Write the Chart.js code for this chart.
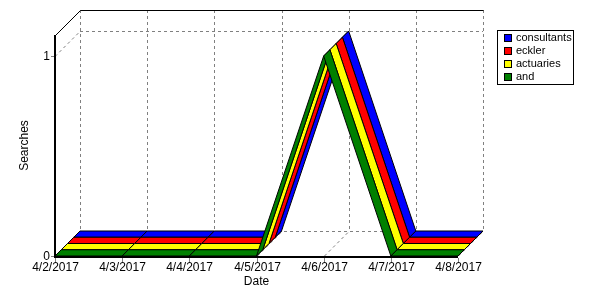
<!DOCTYPE html>
<html>
<head>
<meta charset="utf-8">
<script src="https://cdn.jsdelivr.net/npm/chart.js@4"></script>
<style>
  html, body { margin: 0; padding: 0; background: #fff; }
  #wrap { width: 600px; height: 300px; }
</style>
</head>
<body>
<div id="wrap"><canvas id="chart"></canvas></div>
<script>
const dates = ['4/2/2017', '4/3/2017', '4/4/2017', '4/5/2017', '4/6/2017', '4/7/2017', '4/8/2017'];
const consultants = [0, 0, 0, 0, 1, 0, 0];
const eckler = [0, 0, 0, 0, 1, 0, 0];
const actuaries = [0, 0, 0, 0, 1, 0, 0];
const and = [0, 0, 0, 0, 1, 0, 0];
const yTicks = [0, 1];

const DEPTH = 25;
const FONT = '12px "Liberation Sans", Arial, sans-serif';
const LEGEND_FONT = '11px "Liberation Sans", Arial, sans-serif';

const ribbons3d = {
  id: 'ribbons3d',
  beforeDatasetsDraw(chart) {
    const ctx = chart.ctx, a = chart.chartArea;
    const xs = chart.scales.x, ys = chart.scales.y;
    const y0 = ys.getPixelForValue(0);
    ctx.save();
    ctx.lineWidth = 1;
    ctx.strokeStyle = '#808080';
    ctx.setLineDash([3, 3]);
    // back wall verticals + floor diagonals
    dates.forEach((d, i) => {
      const x = Math.round(xs.getPixelForValue(i)) + 0.5;
      ctx.beginPath();
      ctx.moveTo(x + DEPTH, a.top - DEPTH);
      ctx.lineTo(x + DEPTH, y0 - DEPTH);
      ctx.moveTo(x, y0);
      ctx.lineTo(x + DEPTH, y0 - DEPTH);
      ctx.stroke();
    });
    // back wall horizontals + left wall diagonals
    yTicks.forEach(v => {
      const y = Math.round(ys.getPixelForValue(v)) + 0.5;
      ctx.beginPath();
      ctx.moveTo(a.left + DEPTH, y - DEPTH);
      ctx.lineTo(a.right + DEPTH, y - DEPTH);
      ctx.moveTo(a.left, y);
      ctx.lineTo(a.left + DEPTH, y - DEPTH);
      ctx.stroke();
    });
    ctx.setLineDash([]);
    // top edges
    ctx.strokeStyle = '#000';
    ctx.beginPath();
    ctx.moveTo(a.left + 0.5, a.top + 0.5);
    ctx.lineTo(a.left + DEPTH + 0.5, a.top - DEPTH + 0.5);
    ctx.lineTo(a.right + DEPTH + 0.5, a.top - DEPTH + 0.5);
    ctx.stroke();
    // front axes
    ctx.lineWidth = 2;
    ctx.beginPath();
    ctx.moveTo(a.left, a.top);
    ctx.lineTo(a.left, y0 + 1);
    ctx.lineTo(a.right, y0 + 1);
    ctx.stroke();
    // ticks
    ctx.lineWidth = 1;
    ctx.strokeStyle = '#808080';
    ctx.fillStyle = '#000';
    ctx.font = FONT;
    ctx.textAlign = 'center';
    ctx.textBaseline = 'middle';
    dates.forEach((d, i) => {
      const x = Math.round(xs.getPixelForValue(i)) + 0.5;
      ctx.beginPath();
      ctx.moveTo(x, y0 + 2);
      ctx.lineTo(x, y0 + 6);
      ctx.stroke();
      ctx.fillText(d, x, y0 + 12);
    });
    ctx.textAlign = 'right';
    yTicks.forEach(v => {
      const y = Math.round(ys.getPixelForValue(v)) + 0.5;
      ctx.beginPath();
      ctx.moveTo(a.left - 4, y);
      ctx.lineTo(a.left - 1, y);
      ctx.stroke();
      ctx.fillText(String(v), a.left - 5, y);
    });
    // axis titles
    ctx.textAlign = 'center';
    ctx.fillText('Date', (a.left + a.right) / 2, y0 + 26);
    ctx.save();
    ctx.translate(25, (a.top + y0) / 2);
    ctx.rotate(-Math.PI / 2);
    ctx.fillText('Searches', 0, 0);
    ctx.restore();
    ctx.restore();
  },
  afterDatasetsDraw(chart) {
    const ctx = chart.ctx;
    const sets = chart.data.datasets;
    const n = sets.length;
    const metas = sets.map((s, i) => chart.getDatasetMeta(i).data);
    ctx.save();
    ctx.lineWidth = 1;
    ctx.strokeStyle = '#000';
    ctx.lineJoin = 'miter';
    for (let k = 0; k < dates.length - 1; k++) {
      for (let i = 0; i < n; i++) {
        const f0 = (n - 1 - i) / n, f1 = (n - i) / n;
        const p = metas[i][k], q = metas[i][k + 1];
        ctx.beginPath();
        ctx.moveTo(p.x + DEPTH * f0, p.y - DEPTH * f0);
        ctx.lineTo(q.x + DEPTH * f0, q.y - DEPTH * f0);
        ctx.lineTo(q.x + DEPTH * f1, q.y - DEPTH * f1);
        ctx.lineTo(p.x + DEPTH * f1, p.y - DEPTH * f1);
        ctx.closePath();
        ctx.fillStyle = sets[i].backgroundColor;
        ctx.fill();
        ctx.stroke();
      }
    }
    // legend
    const lx = 497, ly = 30, lw = 76, lh = 54;
    ctx.strokeStyle = '#000';
    ctx.strokeRect(lx + 0.5, ly + 0.5, lw, lh);
    ctx.font = LEGEND_FONT;
    ctx.textAlign = 'left';
    ctx.textBaseline = 'middle';
    sets.forEach((s, i) => {
      const cy = ly + 8 + i * 13;
      ctx.fillStyle = s.backgroundColor;
      ctx.fillRect(lx + 7, cy - 4, 8, 8);
      ctx.strokeRect(lx + 7.5, cy - 3.5, 7, 7);
      ctx.fillStyle = '#000';
      ctx.fillText(s.label, lx + 19, cy);
    });
    ctx.restore();
  }
};

new Chart(document.getElementById('chart'), {
  type: 'line',
  data: {
    labels: dates,
    datasets: [
      { label: 'consultants', data: consultants, backgroundColor: '#0000ff' },
      { label: 'eckler', data: eckler, backgroundColor: '#ff0000' },
      { label: 'actuaries', data: actuaries, backgroundColor: '#ffff00' },
      { label: 'and', data: and, backgroundColor: '#008000' }
    ].map(d => Object.assign(d, { borderWidth: 0, pointRadius: 0, showLine: false }))
  },
  options: {
    responsive: true,
    maintainAspectRatio: false,
    animation: false,
    layout: { padding: { left: 55, right: 142, top: 35, bottom: 44 } },
    plugins: { legend: { display: false }, tooltip: { enabled: false } },
    scales: {
      x: { display: false, offset: false },
      y: { display: false, min: 0, max: 1.105 }
    }
  },
  plugins: [ribbons3d]
});
</script>
</body>
</html>
